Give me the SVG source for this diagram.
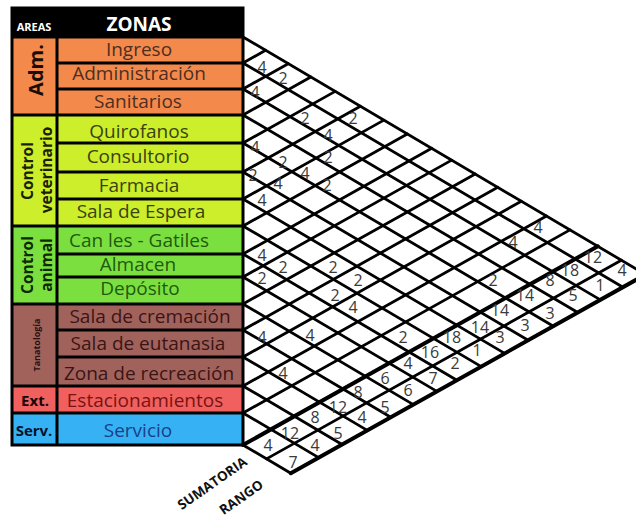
<svg xmlns="http://www.w3.org/2000/svg" width="636" height="519" viewBox="0 0 636 519">
<style>
.zt{font-family:"Open Sans","Liberation Sans",sans-serif;font-size:19px;text-anchor:middle}
.at{font-family:"Open Sans","Liberation Sans",sans-serif;font-weight:bold;text-anchor:middle}
.n{font-family:"Open Sans","Liberation Sans",sans-serif;font-size:16px;fill:#3a3a3a;text-anchor:middle}
.g{stroke:#000;stroke-width:2.8;fill:none;stroke-linecap:round}
.gt{stroke:#000;stroke-width:4;fill:none;stroke-linecap:round}
.b{stroke:#000;stroke-width:3;fill:none}
.or{fill:#F4894C}.ye{fill:#CDEE2A}.gr{fill:#7BE03F}.br{fill:#A1625C}.rd{fill:#F0605E}.bl{fill:#36B2F4}
.lab{font-family:"Open Sans","Liberation Sans",sans-serif;font-weight:bold;font-size:13.5px;fill:#111;text-anchor:middle}
</style>
<rect width="636" height="519" fill="#fff"/>
<g id="header">
<rect x="12" y="8" width="231" height="29" fill="#000"/>
<text class="at" x="34" y="31" font-size="11" fill="#fff">AREAS</text>
<text class="at" x="139" y="31" font-size="19" fill="#fff">ZONAS</text>
</g>
<g id="area-adm"><rect class="or" x="12" y="37" width="45" height="78"/>
<text class="at" font-size="20" fill="#1a0d05" transform="translate(43,70) rotate(-90)">Adm.</text></g>
<g id="area-control-veterinario"><rect class="ye" x="12" y="115" width="45" height="111"/>
<text class="at" font-size="15.5" fill="#1a1f00" transform="translate(33,171) rotate(-90)">Control</text>
<text class="at" font-size="15.5" fill="#1a1f00" transform="translate(52,170) rotate(-90)">veterinario</text></g>
<g id="area-control-animal"><rect class="gr" x="12" y="226" width="45" height="78"/>
<text class="at" font-size="15.5" fill="#0d2a00" transform="translate(33,265) rotate(-90)">Control</text>
<text class="at" font-size="15.5" fill="#0d2a00" transform="translate(52,265) rotate(-90)">animal</text></g>
<g id="area-tanatologia"><rect class="br" x="12" y="304" width="45" height="82"/>
<text class="at" font-size="9" fill="#2a1010" transform="translate(40,345) rotate(-90)">Tanatología</text></g>
<g id="area-ext"><rect class="rd" x="12" y="386" width="45" height="27"/>
<text class="at" font-size="15" fill="#1a0505" x="35" y="406">Ext.</text></g>
<g id="area-serv"><rect class="bl" x="12" y="413" width="45" height="32"/>
<text class="at" font-size="15" fill="#06132a" x="34" y="436">Serv.</text></g>

<g id="zona-ingreso"><rect class="or" x="57" y="37" width="186" height="26"/><text class="zt" x="139" y="56" fill="#4d2f1f">Ingreso</text></g>
<g id="zona-administracion"><rect class="or" x="57" y="63" width="186" height="26"/><text class="zt" x="139" y="80" fill="#4d2f1f">Administración</text></g>
<g id="zona-sanitarios"><rect class="or" x="57" y="89" width="186" height="26"/><text class="zt" x="138" y="108" fill="#4d2f1f">Sanitarios</text></g>
<g id="zona-quirofanos"><rect class="ye" x="57" y="115" width="186" height="28"/><text class="zt" x="139" y="138" fill="#3a4210">Quirofanos</text></g>
<g id="zona-consultorio"><rect class="ye" x="57" y="143" width="186" height="29"/><text class="zt" x="138" y="163" fill="#3a4210">Consultorio</text></g>
<g id="zona-farmacia"><rect class="ye" x="57" y="172" width="186" height="27"/><text class="zt" x="139" y="192" fill="#3a4210">Farmacia</text></g>
<g id="zona-sala-espera"><rect class="ye" x="57" y="199" width="186" height="27"/><text class="zt" x="141" y="218" font-size="17" fill="#3a4210">Sala de Espera</text></g>
<g id="zona-caniles"><rect class="gr" x="57" y="226" width="186" height="28"/><text class="zt" x="139" y="247" fill="#1f5a10">Can les - Gatiles</text></g>
<g id="zona-almacen"><rect class="gr" x="57" y="254" width="186" height="23"/><text class="zt" x="138" y="271" font-size="18" fill="#1f5a10">Almacen</text></g>
<g id="zona-deposito"><rect class="gr" x="57" y="277" width="186" height="27"/><text class="zt" x="140" y="295" fill="#1f5a10">Depósito</text></g>
<g id="zona-cremacion"><rect class="br" x="57" y="304" width="186" height="26"/><text class="zt" x="150" y="323" fill="#3a1515">Sala de cremación</text></g>
<g id="zona-eutanasia"><rect class="br" x="57" y="330" width="186" height="27"/><text class="zt" x="148" y="350" fill="#3a1515">Sala de eutanasia</text></g>
<g id="zona-recreacion"><rect class="br" x="57" y="357" width="186" height="29"/><text class="zt" x="149" y="380" fill="#3a1515">Zona de recreación</text></g>
<g id="zona-estacionamientos"><rect class="rd" x="57" y="386" width="186" height="27"/><text class="zt" x="145" y="407" fill="#7a1212">Estacionamientos</text></g>
<g id="zona-servicio"><rect class="bl" x="57" y="413" width="186" height="32"/><text class="zt" x="138" y="437" fill="#1a3f8a">Servicio</text></g>

<g id="table-lines">
<path class="b" d="M57,63H243M57,89H243M57,143H243M57,172H243M57,199H243M57,254H243M57,277H243M57,330H243M57,357H243"/>
<path class="b" d="M12,37H243M12,115H243M12,226H243M12,304H243M12,386H243M12,413H243"/>
<path class="b" d="M57,37V445"/>
<rect class="b" x="12" y="8" width="231" height="437"/>
</g>

<g id="connectors">
<path class="g" d="M243,37L645.6,274.5M243,63L623,287.2M243,89L600.4,299.9M243,115L577.8,312.5M243,143L553.4,326.2M243,172L528.2,340.3M243,199L504.7,353.4M243,226L481.3,366.6M243,254L456.9,380.2M243,277L436.9,391.4M243,304L413.4,404.6M243,330L390.8,417.2M243,357L367.3,430.4M243,386L342.1,444.5M243,413L318.7,457.6M243,445L290.8,473.2"/>
<path class="g" d="M243,63L265.6,50.3M243,89L288.2,63.7M243,115L310.8,77M243,143L335.2,91.4M243,172L360.4,106.3M243,199L383.9,120.1M243,226L407.3,134M243,254L431.7,148.3M243,277L451.7,160.1M243,304L475.2,174M243,330L497.8,187.3M243,357L521.3,201.2M243,386L546.5,216M243,413L570,229.9M266.5,458.9L621.3,260.2"/>
<path class="gt" d="M243,445L597.8,246.3M290.8,473.2L645.6,274.5"/>
</g>

<g id="relaciones">
<text class="n" x="262" y="73">4</text>
<text class="n" x="283" y="84">2</text>
<text class="n" x="255" y="98">4</text>
<text class="n" x="305" y="124">2</text>
<text class="n" x="353" y="124">2</text>
<text class="n" x="328" y="141">4</text>
<text class="n" x="255" y="153">4</text>
<text class="n" x="328" y="163">2</text>
<text class="n" x="283" y="168">2</text>
<text class="n" x="305" y="179">4</text>
<text class="n" x="253" y="181">2</text>
<text class="n" x="278" y="189">4</text>
<text class="n" x="327" y="191">2</text>
<text class="n" x="262" y="206">4</text>
<text class="n" x="538" y="233">4</text>
<text class="n" x="513" y="248">4</text>
<text class="n" x="262" y="261">4</text>
<text class="n" x="283" y="273">2</text>
<text class="n" x="333" y="273">2</text>
<text class="n" x="262" y="284">2</text>
<text class="n" x="358" y="286">2</text>
<text class="n" x="493" y="286">2</text>
<text class="n" x="335" y="301">2</text>
<text class="n" x="353" y="313">4</text>
<text class="n" x="262" y="343">4</text>
<text class="n" x="310" y="341">4</text>
<text class="n" x="403" y="343">2</text>
<text class="n" x="283" y="379">4</text>
</g>
<g id="sumatoria">
<text class="n" x="593" y="263">12</text>
<text class="n" x="570" y="276">18</text>
<text class="n" x="550" y="286">8</text>
<text class="n" x="525" y="301">14</text>
<text class="n" x="500" y="316">14</text>
<text class="n" x="480" y="333">14</text>
<text class="n" x="452" y="343">18</text>
<text class="n" x="430" y="358">16</text>
<text class="n" x="408" y="369">4</text>
<text class="n" x="385" y="384">6</text>
<text class="n" x="358" y="398">8</text>
<text class="n" x="338" y="413">12</text>
<text class="n" x="315" y="423">8</text>
<text class="n" x="290" y="439">12</text>
<text class="n" x="268" y="451">4</text>
</g>
<g id="rango">
<text class="n" x="622" y="276">4</text>
<text class="n" x="600" y="291">1</text>
<text class="n" x="573" y="301">5</text>
<text class="n" x="550" y="319">3</text>
<text class="n" x="525" y="331">3</text>
<text class="n" x="500" y="343">3</text>
<text class="n" x="477" y="356">1</text>
<text class="n" x="455" y="369">2</text>
<text class="n" x="433" y="384">7</text>
<text class="n" x="408" y="396">6</text>
<text class="n" x="385" y="413">5</text>
<text class="n" x="362" y="423">4</text>
<text class="n" x="338" y="439">5</text>
<text class="n" x="315" y="451">4</text>
<text class="n" x="293" y="468">7</text>
</g>
<g id="labels">
<text class="lab" transform="translate(212,483) rotate(-35)" y="5">SUMATORIA</text>
<text class="lab" transform="translate(241,497) rotate(-35)" y="5">RANGO</text>
</g>
</svg>
